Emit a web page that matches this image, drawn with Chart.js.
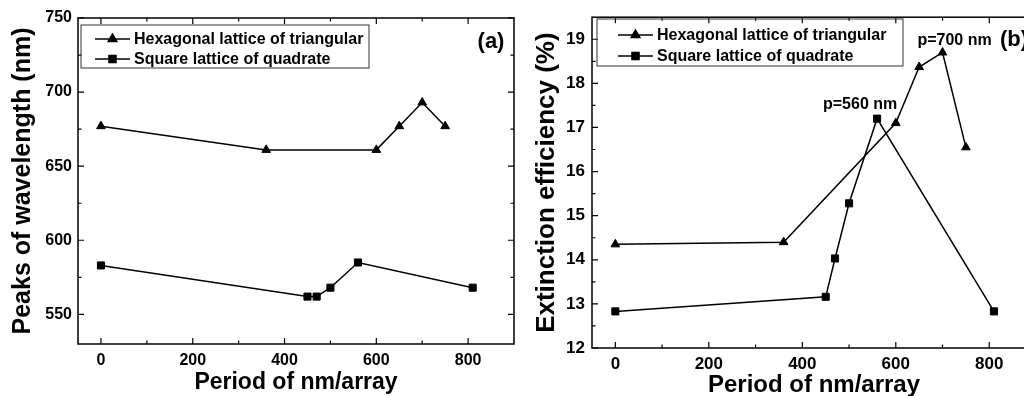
<!DOCTYPE html>
<html>
<head>
<meta charset="utf-8">
<script src="https://cdn.jsdelivr.net/npm/chart.js@4.4.0/dist/chart.umd.min.js"></script>
<style>
  body { margin: 0; background: #fff; overflow: hidden; width: 1024px; height: 396px; position: relative; }
  canvas { position: absolute; top: 0; }
  #chartA { left: 0; }
  #chartB { left: 520px; }
</style>
</head>
<body>
<canvas id="chartA" width="520" height="396"></canvas>
<canvas id="chartB" width="530" height="400"></canvas>
<script>
// data
const hexPeriod = [0, 360, 600, 650, 700, 750];
const sqPeriod = [0, 450, 470, 500, 560, 810];

const hexPeak = [677, 661, 661, 677, 693, 677];
const sqPeak = [583, 562, 562, 568, 585, 568];

const hexEff = [14.35, 14.4, 17.1, 18.37, 18.7, 16.55];
const sqEff = [12.83, 13.16, 14.03, 15.28, 17.2, 12.83];

const hexLabel = 'Hexagonal lattice of triangular';
const sqLabel = 'Square lattice of quadrate';

const periodTicks = [0, 200, 400, 600, 800];
const peakTicks = [550, 600, 650, 700, 750];
const effTicks = [12, 13, 14, 15, 16, 17, 18, 19];

Chart.defaults.font.family = "'Liberation Sans', Arial, sans-serif";
Chart.defaults.font.weight = 'bold';
Chart.defaults.color = '#000';

function pts(xs, ys) {
    return xs.map((x, i) => ({x: x, y: ys[i]}));
}

function series(label, xs, ys, style) {
    return {
        label: label,
        data: pts(xs, ys),
        showLine: true,
        borderColor: '#000',
        backgroundColor: '#000',
        borderWidth: 1.5,
        pointStyle: style,
        pointRadius: 5,
        pointHoverRadius: 5,
        pointBorderWidth: 1,
    };
}

// box round the plot with inward ticks on all four sides
const framePlugin = {
    id: 'frame',
    afterDatasetsDraw(chart, args, opts) {
        const {ctx, chartArea: a} = chart;
        const sx = chart.scales.x, sy = chart.scales.y;
        ctx.save();
        ctx.strokeStyle = '#000';
        ctx.lineWidth = 1.5;
        ctx.strokeRect(a.left, a.top, a.right - a.left, a.bottom - a.top);
        ctx.lineWidth = 1.2;
        const drawX = (v, len) => {
            const px = sx.getPixelForValue(v);
            ctx.beginPath();
            ctx.moveTo(px, a.bottom); ctx.lineTo(px, a.bottom - len);
            ctx.moveTo(px, a.top); ctx.lineTo(px, a.top + len);
            ctx.stroke();
        };
        const drawY = (v, len) => {
            const py = sy.getPixelForValue(v);
            ctx.beginPath();
            ctx.moveTo(a.left, py); ctx.lineTo(a.left + len, py);
            ctx.moveTo(a.right, py); ctx.lineTo(a.right - len, py);
            ctx.stroke();
        };
        opts.xMajor.forEach(v => drawX(v, 6));
        opts.yMajor.forEach(v => drawY(v, 6));
        for (let i = 0; i < opts.xMajor.length; i++) {
            const m = opts.xMajor[i] + opts.xStep / 2;
            if (m < sx.max) drawX(m, 3.5);
        }
        for (let i = 0; i < opts.yMajor.length; i++) {
            const m = opts.yMajor[i] - opts.yStep / 2;
            if (m > sy.min) drawY(m, 3.5);
        }
        ctx.restore();
    }
};

// legend box and text notes
const notesPlugin = {
    id: 'notes',
    afterDraw(chart, args, opts) {
        const {ctx, chartArea: a} = chart;
        const lg = opts.legend;
        ctx.save();
        ctx.strokeStyle = '#333';
        ctx.lineWidth = 1;
        ctx.fillStyle = '#fff';
        ctx.strokeRect(lg.x, lg.y, lg.w, lg.h);
        ctx.font = "bold 16px 'Liberation Sans', Arial, sans-serif";
        ctx.textBaseline = 'middle';
        ctx.textAlign = 'left';
        chart.data.datasets.forEach((ds, i) => {
            const ly = lg.y + lg.rowTop + i * lg.rowGap;
            ctx.strokeStyle = '#000';
            ctx.lineWidth = 1.5;
            ctx.beginPath();
            ctx.moveTo(lg.x + lg.lineStart, ly);
            ctx.lineTo(lg.x + lg.lineStart + 35, ly);
            ctx.stroke();
            ctx.fillStyle = '#000';
            Chart.helpers.drawPoint(ctx, {pointStyle: ds.pointStyle, radius: 5, rotation: 0, borderWidth: 1}, lg.x + lg.lineStart + 17.5, ly);
            ctx.fillStyle = '#000';
            ctx.fillText(ds.label, lg.x + lg.lineStart + 39, ly + 1);
        });
        ctx.textAlign = 'center';
        (opts.texts || []).forEach(t => {
            ctx.font = "bold " + t.size + "px 'Liberation Sans', Arial, sans-serif";
            let px, py;
            if (t.data) {
                px = chart.scales.x.getPixelForValue(t.data[0]) + t.dx;
                py = chart.scales.y.getPixelForValue(t.data[1]) + t.dy;
            } else {
                px = a.right + t.dx;
                py = a.top + t.dy;
            }
            ctx.fillText(t.text, px, py);
        });
        ctx.restore();
    }
};

function axisOptions(cfg) {
    return {
        x: {
            type: 'linear',
            min: -50,
            max: 900,
            afterBuildTicks: s => { s.ticks = periodTicks.map(v => ({value: v})); },
            afterFit: s => { s.height = cfg.xHeight; },
            grid: {display: false, drawTicks: false},
            border: {display: false},
            ticks: {font: {size: cfg.tickSize, weight: 'bold'}, padding: cfg.xPad, maxRotation: 0},
            title: {display: true, text: 'Period of nm/array', font: {size: cfg.xTitleSize, weight: 'bold'}, padding: {top: 0, bottom: 0}},
        },
        y: {
            type: 'linear',
            min: cfg.yMin,
            max: cfg.yMax,
            afterBuildTicks: s => { s.ticks = cfg.yTicks.map(v => ({value: v})); },
            afterFit: s => { s.width = cfg.yWidth; },
            grid: {display: false, drawTicks: false},
            border: {display: false},
            ticks: {font: {size: cfg.tickSize, weight: 'bold'}, padding: cfg.yPad},
            title: {display: true, text: cfg.yTitle, font: {size: cfg.yTitleSize, weight: 'bold'}, padding: {top: cfg.yTitlePad, bottom: 0}},
        }
    };
}

const chartA = new Chart(document.getElementById('chartA'), {
    type: 'scatter',
    data: {
        datasets: [
            series(hexLabel, hexPeriod, hexPeak, 'triangle'),
            series(sqLabel, sqPeriod, sqPeak, 'rect'),
        ]
    },
    options: {
        responsive: false,
        animation: false,
        devicePixelRatio: 1,
        layout: {padding: {top: 18, right: 6, left: 0, bottom: 0}},
        plugins: {
            legend: {display: false},
            tooltip: {enabled: false},
            frame: {xMajor: periodTicks, xStep: 200, yMajor: peakTicks, yStep: 50},
            notes: {
                legend: {x: 81, y: 25, w: 288, h: 43, rowTop: 14, rowGap: 20, lineStart: 14},
                texts: [{text: '(a)', size: 22, dx: -23, dy: 24}],
            },
        },
        scales: axisOptions({
            xHeight: 52, yWidth: 78, tickSize: 16, xPad: 7, yPad: 6,
            xTitleSize: 23, yTitleSize: 25, yTitlePad: 8,
            yMin: 530, yMax: 750, yTicks: peakTicks,
            yTitle: 'Peaks of wavelength (nm)',
        }),
    },
    plugins: [framePlugin, notesPlugin],
});

const chartB = new Chart(document.getElementById('chartB'), {
    type: 'scatter',
    data: {
        datasets: [
            series(hexLabel, hexPeriod, hexEff, 'triangle'),
            series(sqLabel, sqPeriod, sqEff, 'rect'),
        ]
    },
    options: {
        responsive: false,
        animation: false,
        devicePixelRatio: 1,
        layout: {padding: {top: 17, right: 14, left: 0, bottom: 0}},
        plugins: {
            legend: {display: false},
            tooltip: {enabled: false},
            frame: {xMajor: periodTicks, xStep: 200, yMajor: effTicks, yStep: 1},
            notes: {
                legend: {x: 77, y: 19, w: 306, h: 47, rowTop: 16, rowGap: 21, lineStart: 21},
                texts: [
                    {text: 'p=560 nm', size: 16, data: [560, 17.2], dx: -17, dy: -14},
                    {text: 'p=700 nm', size: 16, data: [700, 18.7], dx: 12, dy: -12},
                    {text: '(b)', size: 22, dx: -22, dy: 23},
                ],
            },
        },
        scales: axisOptions({
            xHeight: 52, yWidth: 72, tickSize: 17, xPad: 6, yPad: 7,
            xTitleSize: 24, yTitleSize: 26, yTitlePad: 11,
            yMin: 12, yMax: 19.5, yTicks: effTicks,
            yTitle: 'Extinction efficiency (%)',
        }),
    },
    plugins: [framePlugin, notesPlugin],
});
</script>
</body>
</html>
